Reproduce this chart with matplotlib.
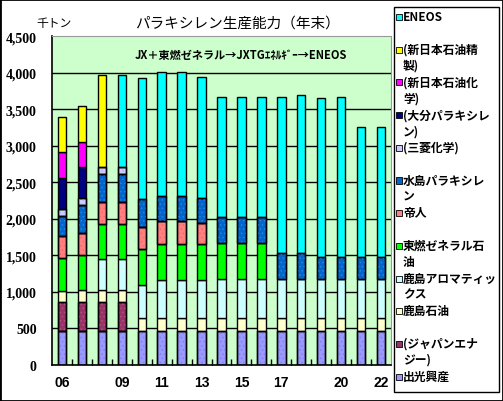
import numpy as np
import matplotlib
matplotlib.use("Agg")
import matplotlib.pyplot as plt
from matplotlib.patches import Rectangle

plt.rcParams['font.family'] = ['Noto Sans CJK JP', 'DejaVu Sans']
plt.rcParams['hatch.linewidth'] = 0.6

# Data (千トン, year end)
years = ['06', '07', '08', '09', '10', '11', '12', '13', '14', '15',
         '16', '17', '18', '19', '20', '21', '22']
shown_years = ['06', '09', '11', '13', '15', '17', '20', '22']

idemitsu = [470, 470, 470, 470, 470, 470, 470, 470, 470, 470, 470, 470, 470, 470, 470, 470, 470]
japan_energy = [390, 390, 390, 390, 0, 0, 0, 0, 0, 0, 0, 0, 0, 0, 0, 0, 0]
kashima_oil = [150, 170, 170, 170, 180, 180, 180, 180, 180, 180, 180, 180, 180, 180, 180, 180, 180]
kashima_arom = [0, 0, 425, 425, 445, 515, 515, 515, 525, 525, 525, 525, 525, 525, 525, 525, 525]
tonen = [455, 470, 480, 480, 490, 490, 490, 490, 490, 490, 490, 0, 0, 0, 0, 0, 0]
teijin = [300, 305, 300, 300, 300, 310, 310, 285, 0, 0, 0, 0, 0, 0, 0, 0, 0]
mizushima = [275, 390, 375, 375, 385, 345, 345, 345, 355, 355, 355, 355, 355, 310, 310, 310, 310]
mitsubishi = [100, 90, 100, 100, 0, 0, 0, 0, 0, 0, 0, 0, 0, 0, 0, 0, 0]
oita = [420, 425, 0, 0, 0, 0, 0, 0, 0, 0, 0, 0, 0, 0, 0, 0, 0]
nippon_chem = [355, 340, 0, 0, 0, 0, 0, 0, 0, 0, 0, 0, 0, 0, 0, 0, 0]
nippon_ref = [480, 490, 1260, 0, 0, 0, 0, 0, 0, 0, 0, 0, 0, 0, 0, 0, 0]
eneos = [0, 0, 0, 1260, 1655, 1705, 1705, 1655, 1655, 1655, 1655, 2145, 2160, 2165, 2180, 1780, 1780]

# stacking order, bottom to top: (values, legend label, colour, dot colour)
series = [
    (idemitsu, '出光興産', '#9999FF', '#8080F0'),
    (japan_energy, '(ジャパンエナ\nジー)', '#993366', '#B0507F'),
    (kashima_oil, '鹿島石油', '#FFFFCC', None),
    (kashima_arom, '鹿島アロマティッ\nクス', '#CCFFFF', None),
    (tonen, '東燃ゼネラル石\n油', '#00FF00', None),
    (teijin, '帝人', '#FF8080', '#FF6464'),
    (mizushima, '水島パラキシレ\nン', '#0066CC', '#2A80E0'),
    (mitsubishi, '(三菱化学)', '#CCCCFF', '#B4B4F4'),
    (oita, '(大分パラキシレ\nン)', '#000080', None),
    (nippon_chem, '(新日本石油化\n学)', '#FF00FF', None),
    (nippon_ref, '(新日本石油精\n製)', '#FFFF00', None),
    (eneos, 'ENEOS', '#00FFFF', None),
]

W, H = 503, 402


def fx(px):
    return px / W


def fy(py):
    return 1 - py / H


fig = plt.figure(figsize=(W / 100, H / 100), dpi=100)
ax = fig.add_axes([fx(52), fy(366), fx(391) - fx(52), fy(37.3) - fy(366)])
ax.set_facecolor('#CCFFCC')

x = np.arange(len(years))
bottom = np.zeros(len(years))
for vals, label, color, dot in series:
    vals = np.array(vals, dtype=float)
    m = vals > 0
    ax.bar(x[m], vals[m], width=0.42, bottom=bottom[m], color=color,
           edgecolor='black', linewidth=1, zorder=2)
    if dot is not None:
        ax.bar(x[m], vals[m], width=0.42, bottom=bottom[m], color='none',
               edgecolor=dot, linewidth=0, hatch='....', zorder=3)
        ax.bar(x[m], vals[m], width=0.42, bottom=bottom[m], color='none',
               edgecolor='black', linewidth=1, zorder=4)
    bottom += vals

yticks = np.arange(0, 4501, 500)
ax.set_xlim(-0.5, len(years) - 0.5)
ax.set_ylim(0, 4500)
ax.set_yticks(yticks)
ax.set_yticklabels([f'{v:,}' for v in yticks],
                   family='Liberation Serif', fontweight='bold', fontsize=10)
ax.tick_params(axis='y', length=0, pad=11)
for v in yticks[1:-1]:
    ax.axhline(v, color='black', linewidth=1, zorder=1)

ax.set_xticks([years.index(y) for y in shown_years])
ax.set_xticklabels(shown_years, family='Liberation Sans', fontweight='bold', fontsize=10)
ax.set_xticks(np.arange(0.5, len(years) - 0.5, 1), minor=True)
ax.tick_params(axis='x', which='major', length=0, pad=7)
ax.tick_params(axis='x', which='minor', direction='in', length=4, width=1, color='black')

for s in ['left', 'bottom']:
    ax.spines[s].set_color('black')
    ax.spines[s].set_linewidth(1.2)
for s in ['top', 'right']:
    ax.spines[s].set_color('#999999')
    ax.spines[s].set_linewidth(0.8)

ax.text(0.557, 0.945, 'JX＋東燃ゼネラル→JXTGｴﾈﾙｷﾞｰ→ENEOS', transform=ax.transAxes,
        ha='center', va='center', fontsize=8, fontweight='bold', zorder=5)

fig.text(fx(237), fy(24), 'パラキシレン生産能力（年末）', ha='center', va='center', fontsize=10.5)
fig.text(fx(54), fy(24), '千トン', ha='center', va='center', fontsize=8.5)

# legend box, entries evenly spaced from the top, reversed stack order
fig.patches.append(Rectangle((fx(394), fy(393)), fx(499) - fx(394), fy(8) - fy(393),
                             transform=fig.transFigure, facecolor='white',
                             edgecolor='black', linewidth=1, zorder=1))
for i, (vals, label, color, dot) in enumerate(reversed(series)):
    y0 = 18 + 32.7 * i
    fig.patches.append(Rectangle((fx(396), fy(y0 + 3)), fx(6), fx(6) * W / H,
                                 transform=fig.transFigure, facecolor=color,
                                 edgecolor='black', linewidth=0.6, zorder=2))
    fig.text(fx(403), fy(y0 - 7), label, ha='left', va='top', fontsize=8.5,
             fontweight='bold', linespacing=1.3)

# outer chart border
fig.patches.append(Rectangle((0, 0), 1, 1, transform=fig.transFigure, fill=False,
                             edgecolor='black', linewidth=2, zorder=0))

fig.savefig('out.png', dpi=100)
